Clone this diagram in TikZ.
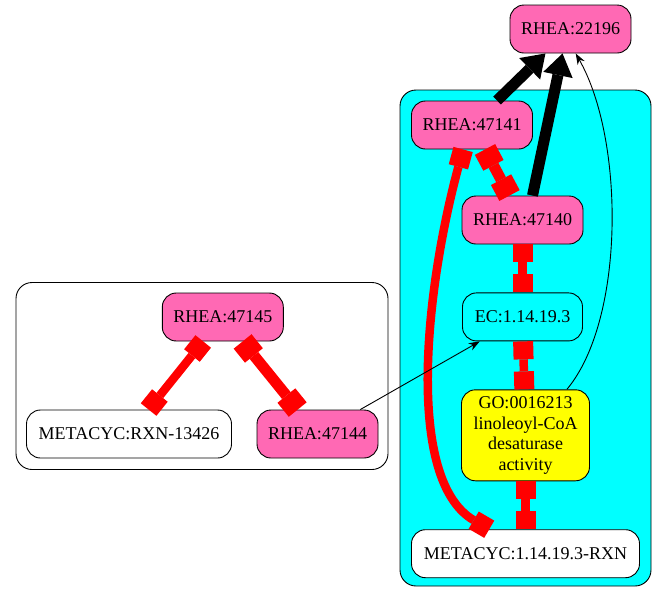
\documentclass[tikz,border=0pt]{standalone}
\usepackage{fontspec}
\setmainfont{Liberation Serif}
\usepackage{tikz}
\usetikzlibrary{arrows.meta, positioning}
\definecolor{RxnPink}{HTML}{FF69B4}
\definecolor{ClusterCyan}{HTML}{00FFFF}
\definecolor{TermYellow}{HTML}{FFFF00}
\definecolor{LinkRed}{HTML}{FF0000}

\begin{document}
\begin{tikzpicture}[
  x=1pt, y=-1pt,
  box/.style={
    rectangle, rounded corners=14pt,
    draw=black, line width=0.9pt,
    minimum height=48pt, inner xsep=11pt,
    align=center, font=\fontsize{18}{20.5}\selectfont
  },
  rhea/.style={box, fill=RxnPink, minimum width=121pt},
  plain/.style={box, fill=white},
  goterm/.style={box, fill=TermYellow, minimum width=128pt, minimum height=91pt},
  cluster/.style={rectangle, rounded corners=16pt, draw=black, line width=0.9pt},
  link/.style={color=LinkRed, line width=8.5pt,
    {Rectangle[length=18pt,width=20pt,line width=0pt]}-{Rectangle[length=18pt,width=20pt,line width=0pt]}},
  biglink/.style={color=LinkRed, line width=11pt,
    {Rectangle[length=18pt,width=23pt,line width=0pt]}-{Rectangle[length=18pt,width=23pt,line width=0pt]}},
  heavyarr/.style={-{Triangle[length=22pt,width=30pt,line width=0pt]}, line width=11pt, color=black},
  thinarr/.style={-{Stealth[length=11pt,width=8pt]}, line width=0.9pt, color=black},
]
\useasboundingbox (0,0) rectangle (667,603);

% Clusters
\node[cluster, fill=ClusterCyan, minimum width=251pt, minimum height=496pt] (cyanset) at (525.5,338) {};
\node[cluster, fill=white, minimum width=372pt, minimum height=187pt] (leftset) at (202,376) {};

% Reactions
\node[rhea] (r22196) at (570.5,29) {RHEA:22196};
\node[rhea] (r47141) at (472,125) {RHEA:47141};
\node[rhea] (r47140) at (522.5,220) {RHEA:47140};
\node[box, minimum width=120pt, below=48pt of r47140] (ec) {EC:1.14.19.3};
\node[goterm, below=48pt of ec, xshift=3pt] (go) {GO:0016213\\linoleoyl-CoA\\desaturase\\activity};
\node[plain, minimum width=228pt, below=48pt of go] (rxn1419) {METACYC:1.14.19.3-RXN};

\node[rhea] (r47145) at (222.8,317) {RHEA:47145};
\node[plain, minimum width=205pt] (rxn13426) at (129,434) {METACYC:RXN-13426};
\node[rhea] (r47144) at (317.5,434) {RHEA:47144};

% Red links
\draw[biglink] (r47141) -- (r47140);
\draw[link] (r47140) -- (ec);
\draw[link] (ec) -- (go);
\draw[link] (go) -- (rxn1419);
\draw[link] (r47141.250) .. controls (425,290) and (405,480) .. (rxn1419.146);
\draw[link] (r47145) -- (rxn13426);
\draw[biglink] (r47145) -- (r47144);

% Black arrows
\draw[heavyarr] (r47141) -- (r22196);
\draw[heavyarr] ([xshift=10pt]r47140.north) -- ([xshift=-8pt]r22196.south);
\draw[thinarr] (go.48) .. controls (625,320) and (625,140) .. (r22196.282);
\draw[thinarr] (r47144) -- (ec);

\end{tikzpicture}
\end{document}
